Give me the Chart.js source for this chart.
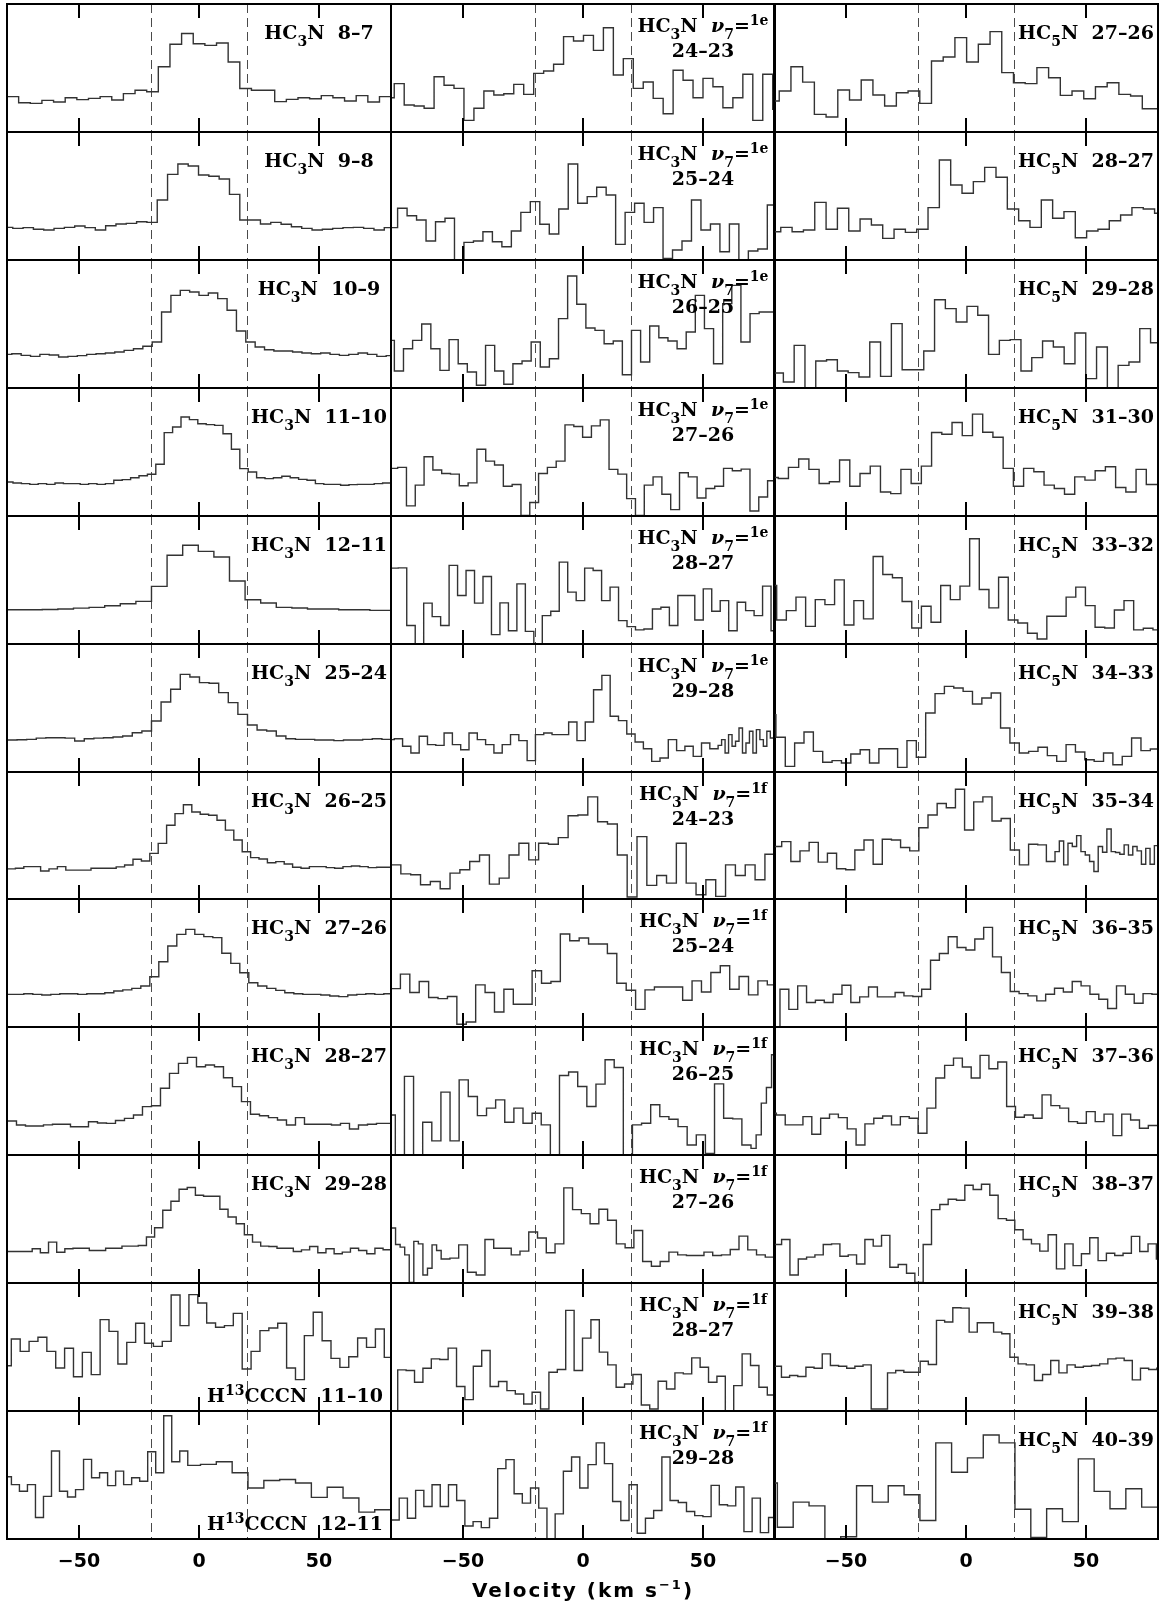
<!DOCTYPE html>
<html>
<head>
<meta charset="utf-8">
<script src="https://cdn.jsdelivr.net/npm/chart.js@4.4.1/dist/chart.umd.min.js"></script>
<style>
  body { margin: 0; background: #fff; width: 1165px; height: 1606px; position: relative; overflow: hidden; }
  canvas { position: absolute; }
</style>
</head>
<body>
<script>
// ---- spectra: intensity in percent of panel height, one value per channel ----
// left column: HC3N ground state + H13CCCN
const hc3n_8_7 = [27.6,22.9,22.4,24.7,23.4,26.8,25.3,26.3,27.6,25,30,32.6,31.5,51,68.5,77,69,67.7,69.5,54.7,34,32.6,32.6,23.7,25.5,26.8,26,28.4,26.8,24.2,28.4,23.4,27.6];
const hc3n_9_8 = [25.5,24.7,25.3,24,23.4,24.7,25.5,26.6,25.3,23.4,26.8,28.1,28.6,29.9,29.4,46.9,66.9,75,73.4,66.4,65.4,63.3,51.3,31.3,31.3,28.1,29.4,27.9,26,24.7,23.4,24,24.7,25.3,25.5,24.7,23.4,25.3];
const hc3n_10_9 = [26.3,26.8,25.5,24.7,26.3,25.8,24.2,24.7,25.3,26.3,26.8,27.3,28.1,29.4,30.7,32.6,35.9,59.4,72.4,76.3,75,72.4,74.2,69.8,60.7,44.5,35.9,32,29.9,28.9,28.9,28.1,27.3,26.8,27.3,26.3,25.5,26.3,27.3,26.3,24.7,25.3];
const hc3n_11_10 = [26.6,25.8,25.3,24.7,25.3,24.7,25.8,25.3,25.3,24.7,25.3,24.7,25.3,27.9,28.4,29.9,31.5,32.6,40.4,65.1,69.5,77.3,75.3,72.1,71.4,70.8,64.3,52.1,37,34.4,29.9,29.2,29.9,31,29.9,28.6,27.9,25.3,24.7,24.7,24,24.5,24.7,24.7,25.3,25.8,27.9];
const hc3n_12_11 = [26.8,26.8,26.8,27,27.3,28,28.6,29.9,31.5,33.3,45,69.3,77.1,72.4,68,49.2,34.6,32,28.6,28.1,27.3,27.3,26.8,26.8,26.3,26.3];
const hc3n_25_24 = [25,25.2,25.5,26.5,26.8,26.8,26.5,24.2,26,26.5,26.8,27.3,28.1,30.7,32,39.8,54.7,64.6,76.3,74.2,69.8,69.3,62,54.2,45,36.7,32.8,32,28.1,26,25.5,25.5,25,25,24.5,25,25,25.5,26,25.5];
const hc3n_26_25 = [23.7,24.2,25.5,25.5,22.1,23.7,25.5,22.7,22.7,22.7,24.2,24.2,24.2,25.3,26.8,31.3,29.9,35.9,43.8,58.1,67.2,74.2,68.5,66.7,65.9,62,54.2,46.4,37.2,32.6,31.5,28.6,29.4,27.6,25,24.2,25.5,25.5,24.7,24.2,25.5,26,25.5,24.7,25,25];
const hc3n_27_26 = [25.5,25.5,26,25.5,25,25.5,26,26,25.5,26,26,26.8,28.1,29,30.2,32,39.3,51,63.3,72.4,76.3,72.4,70.6,69.8,57.6,49.7,42.4,34.6,32,30.2,28.6,26.8,26,25.5,25.5,25,24.2,23.7,25,25.5,26,25.5,26];
const hc3n_28_27 = [26.6,23.4,22.7,22.7,23.5,24,24,22.1,22.1,26,25,24.7,27,28.6,31.3,37.8,38.5,52.1,63.8,71.6,76.3,69,70.3,69,60.4,53.4,41.7,31.8,30.7,29.2,27.3,23.4,29.2,24,24,24,23.4,24.7,20.3,23.4,24,24.7,24.7];
const hc3n_29_28 = [24.6,24.6,24.6,26.7,23.6,31.9,24,26.7,27.2,27.2,25.4,25.4,27.2,27.2,28.8,28.8,29.3,35.9,43.2,56.8,63.9,73.3,74.6,68.6,67.8,67.8,57.6,51.6,46.3,37.7,31.9,28.8,28.5,27.2,27.2,24.6,25.9,28.5,23.6,26.7,22.8,24.1,27.2,25.4,22.8,27.2,26];
const h13cccn_11_10 = [35.4,56.3,46.6,54.4,57.6,46.6,33.6,49,26.8,45.8,28.4,71.4,62.2,36.7,53.6,68.5,52.9,50.5,54.4,90.6,66.7,90.9,84.4,68.8,65.4,66.7,76.3,32.8,46.6,62.8,64.8,68.5,33.6,24.5,58.9,77.1,54.9,41.1,34.1,42.4,57,49.7,64.1,41.9,25.5];
const h13cccn_12_11a = [48.6,42.5,37.3,42.5,16.8,33.3,68.8,37.3,32.8,38.6,62.2,47.8,51.7,41.7,53,42.5,47.8,45.1,68.2,51.7,96.3,60.4,68.8];
const h13cccn_12_11b = [57.5];
const h13cccn_12_11c = [58.3,60.4,51.7,39.9,45.7,46.5,43.8,32.5,40.4,32,21,22.8];

// middle column: HC3N v7=1
const v7e_24_23 = [26.8,37.8,21.1,20.3,18.5,43.2,36.5,34.1,9.1,18.5,32,28.9,29.9,37.2,29.4,45.8,47.7,52.9,74.5,71.1,75.5,63.8,81.5,44.5,57.3,34.1,39.1,26.3,14.3,48.2,40.4,26.8,41.9,35.4,19,26.8,45.1,9.1,45.1,17.7];
const v7e_25_24 = [25.3,40.4,34.6,31.3,14.8,29.9,32.6,-5,13.8,14.8,22.1,14.3,10.4,22.7,37.2,45.6,27.9,20.3,39.8,75,44.3,49.5,56.8,50.8,12.2,37.2,44.3,29.4,40.9,1.3,7.8,14.8,46.9,23.4,28.1,6.5,28.1,-5,7,8.6,43];
const v7e_26_25 = [37.2,13.3,30.7,37.2,50,30.7,13.8,37.8,19,12.5,2.1,33.3,13.3,2.9,19,21.1,35.9,16.4,22.9,54.2,87.5,65.4,46.9,45,34.6,36.7,10.4,45,20.3,48.4,39.3,36.7,30.7,43.8,72.4,46.4,19,65.9,80.2,35.9,58.1,59.4,59.4];
const v7e_27_26 = [37.2,38,7.9,24.1,46.3,35.9,33.2,32.7,23.6,25.9,52.1,42.9,39.8,23.3,24.6,0.5,10.5,33.2,38,42.9,71.2,69.9,61.5,70.4,75.1,36.4,32.7,13.6,0.5,24.1,30.6,17,5,33.8,30.6,14.1,21.5,23.3,37.2,35.3,36.6,3.9,14.9,27.5];
const v7e_28_27 = [59.3,59.5,14.4,-3,31.9,21.4,14.4,61.4,37.9,57.4,31.9,52.7,7.3,32.1,10.4,47,9.9,-3,22.2,25.6,64,40.5,33.9,59.3,57.4,33.9,44.4,18.3,13.6,11,11.7,27.4,28.7,14.4,37.9,37.9,18.8,43.1,25.6,33.9,10.4,32.6,26.1,22.2,45.2,10.4];
const v7e_29_28a = [25.3,26,20.1,14.8,27.9,21.4,20.8,30.5,21.4,17.4,30.5,25.3,21.4,14.8,21.4,29.2,24.5,8.9,29.2,30.5,29.2,29.2,39.1,24.5,39.1,64.3,75.5,43.5,40.1,29.7,23.4,18.2,8.3,10.9,25.3,16.7,20.1,12.2,22.7,18.2];
const v7e_29_28b = [20.8,25.3,14.8,29.2,20.1,24,34.4,14.8,22.7,31.8,14.8,33.1,25.3,20.1,31.8,26.6,44.8];
const v7f_24_23 = [26.9,19.8,19.1,11.2,13.8,8.1,20.4,23,29.5,34.7,11.7,16.4,34.7,43.9,30.8,43.9,43.1,48.3,65.5,66.1,80.4,60.8,59,34.7,1.6,49.1,10.7,18.5,12.5,43.9,12.5,3.4,15.1,2.1,26.9,18.5,26.9,15.1,35.2];
const v7f_25_24 = [30,41.3,26.9,35.5,23,22.2,23.8,2.1,3.9,32.9,26.9,11.7,29.5,17.8,17.8,43.9,34.2,35.5,72.6,67.4,69.5,64.8,64.8,57.4,34.2,28.7,13.8,29,31.3,31.3,31.3,20.9,36,27.4,42.6,47.8,29.5,39.4,25.1,36,32.9];
const v7f_26_25a = [31.3,-3,61.4,-3,25.6,11,49.1,11,58.7,45.7,30.8,36.6,43.1,25.6,36.6,24.8,32.6,23.5,-3,62.1,64.8,53.5,37.9,55.4,74.4,68.4,-3,23.5,24.8,39.2,30,27.9,22.2,7.8,15.7,1.3,55.6,28.7,28.2,7.8];
const v7f_26_25b = [5.2,15.7,40.5,52.7,78.3];
const v7f_27_26a = [43,30.1,28,22,0.5,32.5,30.6,6.3,11.5,29.8,25.4];
const v7f_27_26b = [18.8,19.4,29.8,8.4,6.3,34,27.2,27.2,22,24.9,39.8,35.1,23.6,30.6,74.3,57.3,54.2,46.3,57.6,49,30.6,27.5,41,16.8,13.1,16.8,24.1,22,21.5,21.5,24.1,21.5,22,26.2,36.6,25.9,22,20.2];
const v7f_28_27 = [-3,32.1,31.6,22.5,33.4,40.7,40.2,49.1,19.1,8.9,35,47.3,19.1,23,15.9,13.3,5.5,14.6,1.6,30.3,32.4,78.6,31.6,56.9,71.3,46,36,18.5,21.1,28.5,4.7,1.6,23.2,17.2,29.8,29,41.5,34.2,22.5,27.2,0.3,19.8,44.6,35.5,18.5,12.5];
const v7f_29_28 = [14.9,31.9,16.2,38,25.4,42.4,25.4,42.4,30.1,10.2,13.6,8.9,16.2,55,62,35.3,28,39.8,24.1,0,19.6,52.9,64.1,39.8,58.1,75.1,58.9,29.3,14.4,42.4,4.5,16.2,22.3,64.1,30.1,28.5,21.5,18.3,17.5,41.9,26.7,25.9,40.6,5.8,31.9,5,16.8];

// right column: HC5N
const hc5n_27_26 = [24.2,32,51,39,13.8,11.7,32.8,25,40.6,28.9,20.3,30.7,32,22.4,55.5,58.6,73.7,54.7,68.5,78.4,46.4,38.5,37.8,50.3,42.4,28.6,32,26,35.4,38.5,29.4,28.1,18.2,18.2];
const hc5n_28_27 = [22.1,25.5,22.1,23.4,45,24,40.4,22.7,32,27.3,16.9,24,21.6,24,40.9,78.1,58.6,52.1,61.2,72.4,64.6,39.8,30.7,25.5,46.9,32.6,37.8,17.4,22.7,24,30.7,35.2,40.9,39.8,36.5];
const hc5n_29_28 = [11.7,4.7,33.3,-1,21.1,22.1,13.3,12,8.6,35.9,9.1,50.3,14.3,14.3,28.9,69,62,51.6,63.8,56.8,26.3,37.2,37.8,13.3,23.7,36.7,32,19,43,7.3,32,-1,17.7,20.3,46.4,35.4];
const hc5n_31_30 = [30.1,29.3,38,44.5,36.4,25.4,26.7,43.7,23.3,33.2,39,18.8,17.5,36.4,25.4,39,65.2,63.9,73,62.8,79.6,65.4,61.5,37.2,23.3,37.2,34.6,24.1,21.5,17,30.6,28,35.3,38.5,22.3,18.8,36.4,24.6,24.6];
const hc5n_33_32 = [45.7,18.8,26.1,36.6,13.8,34.7,30.8,50.1,14.9,33.9,19.6,68.4,54.3,51.7,33.2,12.5,29.5,17,45.7,34.7,45.2,82.2,42.6,28.2,52.2,18.8,16.4,8.4,3.9,21.7,21.7,36.6,44.4,30,13.1,12.5,26.6,33.9,11,12.3,11];
const hc5n_34_33 = [44.8,27.1,4.4,22.7,31.3,16.1,7.6,8.9,7,14.1,17.4,7,18.2,18.2,3.6,24.5,11.5,46.1,61.2,66.9,65.6,63,53.1,57.8,61.7,34.4,22.7,14.8,16.1,19.3,12.8,8.3,21.4,15.6,9.6,8.3,14.8,5.7,12.2,26.6,16.7,18];
const hc5n_35_34a = [41.3,45.2,29.5,37.9,44.6,29,36,23.8,23,38.6,46.5,27.4,47,46.5,40.5,37.9,56.1,66.1,75.2,71.8,86.4,54.3,76.5,80.4,61.4,63.4,38.6,26.9,43.1];
const hc5n_35_34b = [42.6,42.6,29.5,29.5,37.3,45.7,26.9,43.9,41.3,49.9,37.3,34.7,29.5,21.7,41.3,36.8,55.1,37.3,36.6,35.2,42.6,34.7,41.3,37.9,27.4,39.9,27.4,42];
const hc5n_36_35 = [-5,29.5,13.8,32.1,19.1,20.9,19.1,25.6,32.6,19.1,23.5,31.3,23.5,23.5,26.9,24.3,23.8,29.5,52.2,57.4,70.5,62.1,60.1,68.7,77.8,54.8,42.6,27.7,26.1,24.3,20.4,25.6,30.3,27.4,35.5,32.1,25.6,21.7,14.4,32.1,25.6,18.5,26.1,25.6];
const hc5n_37_36 = [32.6,31.3,23.5,23.5,30,16.2,28.7,31.9,29.2,20.4,7.8,24.3,28.7,30.5,23.5,30,28.7,17,36.6,60.1,70,75.7,68.7,60.1,77.8,67.4,72.6,37.9,29.5,31.3,28.7,47,38.6,36.6,26.1,24.8,33.9,26.1,31.9,15.1,31.9,27.4,20.9,23];
const hc5n_38_37 = [30.1,34,6.3,18.8,20.2,22,30.1,30.6,20.9,22,14.9,34,28.8,37.2,12.3,14.4,7.6,0.5,30.1,57.3,61.3,65.4,64.7,76.4,73,77.2,68.6,50.3,49,41.6,34,30.6,24.9,37.7,11,30.6,13.6,22.8,35.3,17.5,23.3,21.5,23.3,36.4,24.6,30.6,18.8];
const hc5n_39_38 = [35,26.4,27.7,26.9,34.2,33.4,44.6,35.5,35,33.4,35,36,1.6,1.6,29.8,31.6,30.3,30.3,38.9,36.3,70.8,69.5,80.7,80.4,61.6,68.9,68.9,61.6,60.3,42,36.8,36,23.8,28.5,39.4,29.8,36,34.2,35,35.5,36.8,40.7,41.3,39.4,24.3,33.4,32.4,33.4];
const hc5n_40_39 = [43.7,9.2,28.8,25.9,-3,1.8,41.6,28.8,41.6,34.6,14.4,75.1,52.1,63.4,81.2,75.1,23.3,1.3,23.6,13.6,62.6,37.2,23.6,39.3,24.9];

// axis
const velTicks = [-50, 0, 50];
const velTickLabels = ['\u221250', '0', '50'];
const windowLines = [-20, 20];

// label helpers: style 0 normal, -1 subscript, 1 superscript, 2 italic
const hc3nLab = tr => ({ kind: 'top', lines: [[['HC', 0], ['3', -1], ['N  ' + tr, 0]]] });
const hc5nLab = tr => ({ kind: 'top', lines: [[['HC', 0], ['5', -1], ['N  ' + tr, 0]]] });
const vibLab = (t, tr) => ({ kind: 'mid', lines: [[['HC', 0], ['3', -1], ['N  ', 0], ['\u03bd', 2], ['7', -1], ['=', 0], ['1' + t, 1]], [[tr, 0]]] });
const h13Lab = tr => ({ kind: 'bot', lines: [[['H', 0], ['13', 1], ['CCCN  ' + tr, 0]]] });

// columns top to bottom; each: label, start velocity, [channel width, values] segments
const panels = [
  [hc3nLab('8\u20137'), -80, [[4.85, hc3n_8_7]]],
  [hc3nLab('9\u20138'), -81.9, [[4.3, hc3n_9_8]]],
  [hc3nLab('10\u20139'), -81.9, [[3.9, hc3n_10_9]]],
  [hc3nLab('11\u201310'), -81, [[3.5, hc3n_11_10]]],
  [hc3nLab('12\u201311'), -84.8, [[6.5, hc3n_12_11]]],
  [hc3nLab('25\u201324'), -79.8, [[4, hc3n_25_24]]],
  [hc3nLab('26\u201325'), -80, [[3.5, hc3n_26_25]]],
  [hc3nLab('27\u201326'), -80.5, [[3.75, hc3n_27_26]]],
  [hc3nLab('28\u201327'), -79.8, [[3.75, hc3n_28_27]]],
  [hc3nLab('29\u201328'), -79.7, [[3.4, hc3n_29_28]]],
  [h13Lab('11\u201310'), -81.9, [[3.7, h13cccn_11_10]]],
  [h13Lab('12\u201311'), -81.5, [[3.34, h13cccn_12_11a], [5.3, h13cccn_12_11b], [6.6, h13cccn_12_11c]]],

  [vibLab('e', '24\u201323'), -82.8, [[4.15, v7e_24_23]]],
  [vibLab('e', '25\u201324'), -81.2, [[3.95, v7e_25_24]]],
  [vibLab('e', '26\u201325'), -82.4, [[3.8, v7e_26_25]]],
  [vibLab('e', '27\u201326'), -80.9, [[3.67, v7e_27_26]]],
  [vibLab('e', '28\u201327'), -80.5, [[3.53, v7e_28_27]]],
  [vibLab('e', '29\u201328'), -82.1, [[3.46, v7e_29_28a], [1.45, v7e_29_28b]]],
  [vibLab('f', '24\u201323'), -80, [[4.1, v7f_24_23]]],
  [vibLab('f', '25\u201324'), -80, [[3.92, v7f_25_24]]],
  [vibLab('f', '26\u201325'), -82, [[3.8, v7f_26_25a], [2.14, v7f_26_25b]]],
  [vibLab('f', '27\u201326'), -80, [[1.9, v7f_27_26a], [3.65, v7f_27_26b]]],
  [vibLab('f', '28\u201327'), -80.7, [[3.5, v7f_28_27]]],
  [vibLab('f', '29\u201328'), -80, [[3.42, v7f_29_28]]],

  [hc5nLab('27\u201326'), -82.7, [[4.88, hc5n_27_26]]],
  [hc5nLab('28\u201327'), -81.9, [[4.72, hc5n_28_27]]],
  [hc5nLab('29\u201328'), -80.6, [[4.5, hc5n_29_28]]],
  [hc5nLab('31\u201330'), -82.5, [[4.26, hc5n_31_30]]],
  [hc5nLab('33\u201332'), -82.9, [[4.02, hc5n_33_32]]],
  [hc5nLab('34\u201333'), -83.1, [[3.9, hc5n_34_33]]],
  [hc5nLab('35\u201334'), -80.6, [[3.81, hc5n_35_34a], [1.8, hc5n_35_34b]]],
  [hc5nLab('36\u201335'), -81.2, [[3.69, hc5n_36_35]]],
  [hc5nLab('37\u201336'), -82.7, [[3.69, hc5n_37_36]]],
  [hc5nLab('38\u201337'), -80.3, [[3.47, hc5n_38_37]]],
  [hc5nLab('39\u201338'), -80.3, [[3.4, hc5n_39_38]]],
  [hc5nLab('40\u201339'), -85.2, [[6.6, hc5n_40_39]]]
];

// layout
const M = 3;
const colX = [7, 391, 774];
const PW = 384;
const rowY = r => Math.round(4 + r * 127.92);
const NROWS = 12;

const serif = '"DejaVu Serif", serif';
const sans = '"DejaVu Sans", sans-serif';

function drawRuns(ctx, runs, cx, y, f) {
  const fonts = runs.map(([t, s]) => (s === 2 ? 'italic ' : '') + (f.weight || '') + ' ' + (s === 1 || s === -1 ? f.small : f.size) + 'px ' + f.family);
  ctx.letterSpacing = f.spacing || '0px';
  let w = 0;
  const ws = runs.map(([t], i) => { ctx.font = fonts[i]; const m = ctx.measureText(t).width; w += m; return m; });
  let x = cx - w / 2;
  ctx.textAlign = 'left';
  ctx.textBaseline = 'alphabetic';
  runs.forEach(([t, s], i) => {
    ctx.font = fonts[i];
    const dy = s === -1 ? f.sub : s === 1 ? f.sup : 0;
    ctx.fillText(t, x, y + dy);
    x += ws[i];
  });
  ctx.letterSpacing = '0px';
}

function stepPoints(start, segs) {
  const pts = [];
  let v = start, last = 0;
  segs.forEach(([w, vals]) => {
    vals.forEach(y => { pts.push({ x: v, y: y }); v += w; last = y; });
  });
  pts.push({ x: v, y: last });
  return pts;
}

const panelDeco = {
  id: 'panelDeco',
  beforeDatasetsDraw(chart, args, o) {
    const { ctx, chartArea: a, scales: { x } } = chart;
    ctx.save();
    ctx.strokeStyle = '#4a4a4a';
    ctx.lineWidth = 1;
    ctx.setLineDash([9, 5]);
    windowLines.forEach(v => {
      const px = Math.round(x.getPixelForValue(v)) + 0.5;
      ctx.beginPath(); ctx.moveTo(px, a.top); ctx.lineTo(px, a.bottom); ctx.stroke();
    });
    ctx.restore();
  },
  afterDatasetsDraw(chart, args, o) {
    const { ctx, chartArea: a, scales: { x } } = chart;
    ctx.save();
    ctx.strokeStyle = '#000';
    ctx.lineWidth = 2;
    ctx.strokeRect(a.left, a.top, a.right - a.left, a.bottom - a.top);
    velTicks.forEach(v => {
      const px = Math.round(x.getPixelForValue(v));
      ctx.beginPath();
      ctx.moveTo(px, a.top); ctx.lineTo(px, a.top + 14);
      ctx.moveTo(px, a.bottom); ctx.lineTo(px, a.bottom - 14);
      ctx.stroke();
    });
    ctx.fillStyle = '#000';
    const lab = o.label;
    const f = { family: serif, weight: 'bold', size: 19, small: 14, sub: 7, sup: -7 };
    if (lab.kind === 'top') {
      drawRuns(ctx, lab.lines[0], x.getPixelForValue(50), a.top + 35, f);
    } else if (lab.kind === 'mid') {
      drawRuns(ctx, lab.lines[0], x.getPixelForValue(50), a.top + 28, f);
      drawRuns(ctx, lab.lines[1], x.getPixelForValue(50), a.top + 53, f);
    } else {
      drawRuns(ctx, lab.lines[0], x.getPixelForValue(40), a.bottom - 9, f);
    }
    if (o.bottom) {
      ctx.font = 'bold 19px ' + sans;
      ctx.textAlign = 'center';
      ctx.textBaseline = 'middle';
      velTicks.forEach((v, i) => ctx.fillText(velTickLabels[i], x.getPixelForValue(v), a.bottom + 23));
    }
    if (o.title) {
      drawRuns(ctx, [['Velocity (km s', 0], ['\u22121', 1], [')', 0]], (a.left + a.right) / 2, a.bottom + 58,
        { family: sans, weight: 'bold', size: 20, small: 13, sub: 0, sup: -8, spacing: '2px' });
    }
    ctx.restore();
  }
};

panels.forEach(([label, start, segs], i) => {
  const col = Math.floor(i / NROWS), row = i % NROWS;
  const top = rowY(row), h = rowY(row + 1) - top;
  const bottom = row === NROWS - 1;
  const extra = bottom ? 72 : 0;
  const cv = document.createElement('canvas');
  cv.width = PW + 2 * M;
  cv.height = h + 2 * M + extra;
  cv.style.left = (colX[col] - M) + 'px';
  cv.style.top = (top - M) + 'px';
  cv.style.width = cv.width + 'px';
  cv.style.height = cv.height + 'px';
  document.body.appendChild(cv);

  new Chart(cv, {
    type: 'line',
    data: {
      datasets: [{
        data: stepPoints(start, segs),
        stepped: true,
        borderColor: '#333',
        borderWidth: 1.4,
        pointRadius: 0,
        fill: false
      }]
    },
    options: {
      responsive: false,
      animation: false,
      events: [],
      layout: { padding: { left: M, right: M, top: M, bottom: M + extra } },
      scales: {
        x: { type: 'linear', min: -80, max: 80, display: false },
        y: { min: 0, max: 100, display: false }
      },
      plugins: {
        legend: { display: false },
        tooltip: { enabled: false },
        panelDeco: { label: label, bottom: bottom, title: bottom && col === 1 }
      }
    },
    plugins: [panelDeco]
  });
});
</script>
</body>
</html>
